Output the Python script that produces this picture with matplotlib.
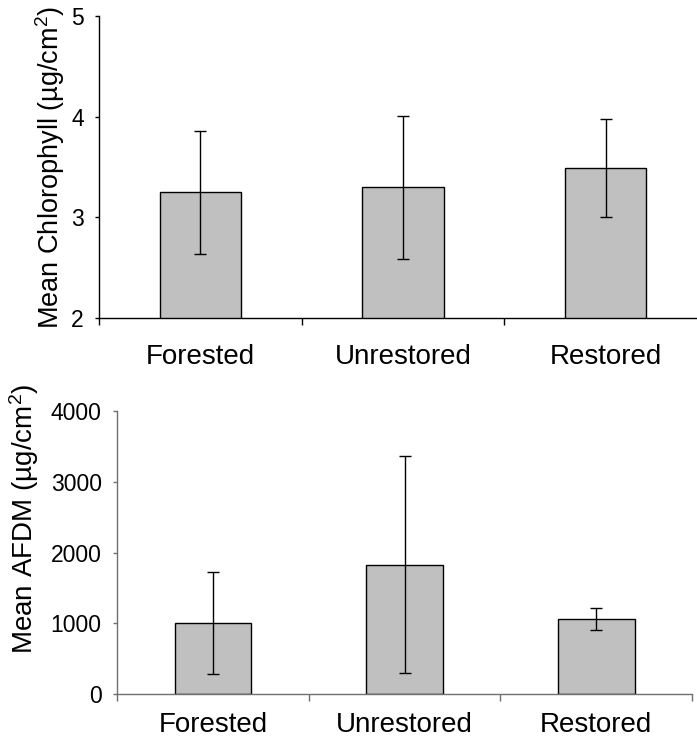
import matplotlib
matplotlib.use("Agg")
from matplotlib import pyplot as plt
import numpy as np

plt.rcParams['font.family'] = ['Liberation Sans', 'DejaVu Sans']
plt.rcParams['mathtext.fontset'] = 'custom'
plt.rcParams['mathtext.rm'] = 'Liberation Sans'
plt.rcParams['mathtext.it'] = 'Liberation Sans:italic'

sites = ["Forested", "Unrestored", "Restored"]

chl_mean = [3.25, 3.30, 3.49]
chl_err = [0.61, 0.71, 0.49]

afdm_mean = [1000, 1830, 1065]
afdm_err = [720, 1530, 155]

W, H = 697, 747
fig = plt.figure(figsize=(W / 100, H / 100), dpi=100)


def panel(rect, means, errs, ylim, yticks, ylabel, xpad, labxy, spcol, labsize):
    ax = fig.add_axes(rect)
    x = np.arange(len(sites))
    ax.bar(x, means, width=0.4, color="#c0c0c0", edgecolor="black", linewidth=1.0)
    ax.errorbar(x, means, yerr=errs, fmt="none", ecolor="black", elinewidth=1.0,
                capsize=4.5, capthick=1.0)
    ax.set_xlim(-0.5, len(sites) - 0.5)
    ax.set_ylim(*ylim)
    ax.set_yticks(yticks)
    ax.set_xticks(np.arange(len(sites) + 1) - 0.5)
    ax.set_xticklabels([])
    ax.set_xticks(x, minor=True)
    ax.set_xticklabels(sites, minor=True, fontsize=20)
    ax.tick_params(axis="x", which="major", direction="out", length=5, width=1,
                   color=spcol)
    ax.tick_params(axis="x", which="minor", length=0, pad=xpad)
    ax.tick_params(axis="y", direction="out", length=3, width=1, labelsize=16.5,
                   pad=8, color=spcol)
    for s in ["top", "right"]:
        ax.spines[s].set_visible(False)
    for s in ["left", "bottom"]:
        ax.spines[s].set_linewidth(1.0)
        ax.spines[s].set_color(spcol)
    ax.set_ylabel(ylabel, fontsize=labsize)
    ax.yaxis.set_label_coords(*labxy)
    return ax


# top panel: chlorophyll
panel([99 / W, 1 - 318 / H, 608 / W, 302 / H], chl_mean, chl_err,
      (2, 5), [2, 3, 4, 5], r"Mean Chlorophyll (µg/cm$^2$)", 19, (-0.052, 0.5),
      "black", 19.5)

# bottom panel: AFDM
panel([117 / W, 1 - 694 / H, 575 / W, 283 / H], afdm_mean, afdm_err,
      (0, 4000), [0, 1000, 2000, 3000, 4000], r"Mean AFDM (µg/cm$^2$)", 13,
      (-0.132, 0.62), "#707070", 20)

fig.savefig("out.png", dpi=100)
